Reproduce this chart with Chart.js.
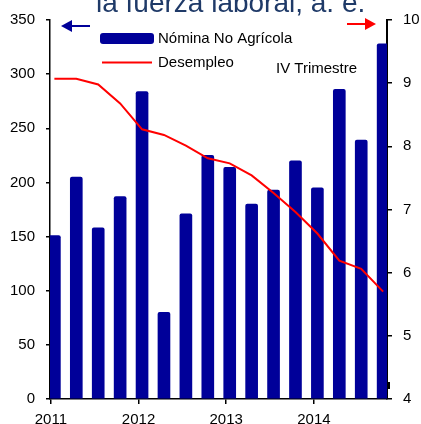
<!DOCTYPE html>
<html>
<head>
<meta charset="utf-8">
<script src="https://cdn.jsdelivr.net/npm/chart.js@4.4.1/dist/chart.umd.min.js"></script>
<style>
html,body{margin:0;padding:0;background:#fff;}
#wrap{width:421px;height:424px;position:relative;}
</style>
</head>
<body>
<div id="wrap"><canvas id="c" width="421" height="424"></canvas></div>
<script>
// Quarterly data, 2011 Q1 – 2014 Q4
const quarters = ["2011 T1","2011 T2","2011 T3","2011 T4","2012 T1","2012 T2","2012 T3","2012 T4",
                  "2013 T1","2013 T2","2013 T3","2013 T4","2014 T1","2014 T2","2014 T3","2014 T4"];
const nominaNoAgricola = [151, 205, 158, 187, 284, 80, 171, 225, 214, 180, 193, 220, 195, 286, 239, 328];
const desempleo = [9.07, 9.07, 8.98, 8.68, 8.27, 8.18, 8.01, 7.81, 7.73, 7.54, 7.26, 6.96, 6.62, 6.19, 6.06, 5.70];
const yearTicks = [2011, 2012, 2013, 2014];
const leftTicks = [0, 50, 100, 150, 200, 250, 300, 350];
const rightTicks = [4, 5, 6, 7, 8, 9, 10];
const seriesNames = ["Nómina No Agrícola", "Desempleo"];
const titleText = "la fuerza laboral, a. e.";
const noteText = "IV Trimestre";

// x position of each quarter (decimal year)
function qx(label) {
  const y = parseInt(label.slice(0, 4), 10);
  const q = parseInt(label.slice(6), 10);
  return y + (q - 1) * 0.25 + 0.04;
}
const barPts = quarters.map((q, i) => ({x: qx(q), y: nominaNoAgricola[i]}));
const linePts = quarters.map((q, i) => ({x: qx(q), y: desempleo[i]}));

const FONT = "'Liberation Sans', Arial, sans-serif";
const BLUE = "#000099";
const RED = "#FF0000";

const decor = {
  id: 'decor',
  afterDraw(chart) {
    const ctx = chart.ctx;
    ctx.save();
    ctx.fillStyle = "#1F3A68";
    ctx.font = "28px " + FONT;
    ctx.textAlign = "left";
    ctx.textBaseline = "alphabetic";
    ctx.fillText(titleText, 96, 12);

    ctx.fillStyle = BLUE;
    ctx.beginPath();
    ctx.roundRect(100, 33, 54, 11, 3);
    ctx.fill();
    ctx.strokeStyle = RED;
    ctx.lineWidth = 2;
    ctx.beginPath();
    ctx.moveTo(102, 62.5);
    ctx.lineTo(152, 62.5);
    ctx.stroke();
    ctx.fillStyle = "#000";
    ctx.font = "15px " + FONT;
    ctx.textBaseline = "middle";
    ctx.fillText(seriesNames[0], 158, 38.5);
    ctx.fillText(seriesNames[1], 158, 62.5);
    ctx.fillText(noteText, 276, 69);

    function arrow(x0, x1, y, color) {
      ctx.strokeStyle = color;
      ctx.fillStyle = color;
      ctx.lineWidth = 2;
      const dir = Math.sign(x1 - x0);
      const hx = x1 - dir * 11;
      ctx.beginPath();
      ctx.moveTo(x0, y);
      ctx.lineTo(hx, y);
      ctx.stroke();
      ctx.beginPath();
      ctx.moveTo(x1, y);
      ctx.lineTo(hx, y - 6);
      ctx.lineTo(hx, y + 6);
      ctx.closePath();
      ctx.fill();
    }
    arrow(90, 61, 26, BLUE);
    arrow(347, 376, 24, RED);

    ctx.fillStyle = "#000";
    ctx.fillRect(388, 382, 2, 7);
    ctx.restore();
  }
};

new Chart(document.getElementById('c'), {
  data: {
    datasets: [
      {
        type: 'line',
        label: seriesNames[1],
        data: linePts,
        yAxisID: 'y1',
        borderColor: RED,
        borderWidth: 2,
        pointRadius: 0,
        tension: 0,
        order: 0
      },
      {
        type: 'bar',
        label: seriesNames[0],
        data: barPts,
        yAxisID: 'y',
        backgroundColor: BLUE,
        barThickness: 12,
        borderRadius: {topLeft: 2, topRight: 2, bottomLeft: 0, bottomRight: 0},
        borderSkipped: 'bottom',
        order: 1
      }
    ]
  },
  options: {
    responsive: false,
    animation: false,
    devicePixelRatio: 1,
    layout: {padding: {top: 20, left: 0, right: 0, bottom: 0}},
    plugins: {legend: {display: false}, tooltip: {enabled: false}},
    scales: {
      x: {
        type: 'linear',
        offset: false,
        min: 2010.99,
        max: 2014.834,
        afterBuildTicks(s) { s.ticks = yearTicks.map(v => ({value: v})); },
        afterFit(s) { s.height = 25; },
        grid: {display: true, offset: false, drawOnChartArea: false, drawTicks: true, tickLength: 5, color: '#000', lineWidth: 1.5},
        border: {display: true, color: '#000', width: 1.5},
        ticks: {
          color: '#000', font: {family: FONT, size: 15}, padding: 7,
          maxRotation: 0, autoSkip: false,
          callback: v => String(v)
        }
      },
      y: {
        position: 'left',
        min: 0, max: 350,
        afterBuildTicks(s) { s.ticks = leftTicks.map(v => ({value: v})); },
        afterFit(s) { s.width = 50; },
        grid: {display: true, drawOnChartArea: false, drawTicks: true, tickLength: 4, color: '#000', lineWidth: 1.5},
        border: {display: true, color: '#000', width: 1.5},
        ticks: {color: '#000', font: {family: FONT, size: 15}, padding: 11, callback: v => String(v)}
      },
      y1: {
        position: 'right',
        min: 4, max: 10,
        afterBuildTicks(s) { s.ticks = rightTicks.map(v => ({value: v})); },
        afterFit(s) { s.width = 34; },
        grid: {display: true, drawOnChartArea: false, drawTicks: true, tickLength: 5, color: '#000', lineWidth: 1.5},
        border: {display: true, color: '#000', width: 2},
        ticks: {color: '#000', font: {family: FONT, size: 15}, padding: 11, callback: v => String(v)}
      }
    }
  },
  plugins: [decor]
});
</script>
</body>
</html>
